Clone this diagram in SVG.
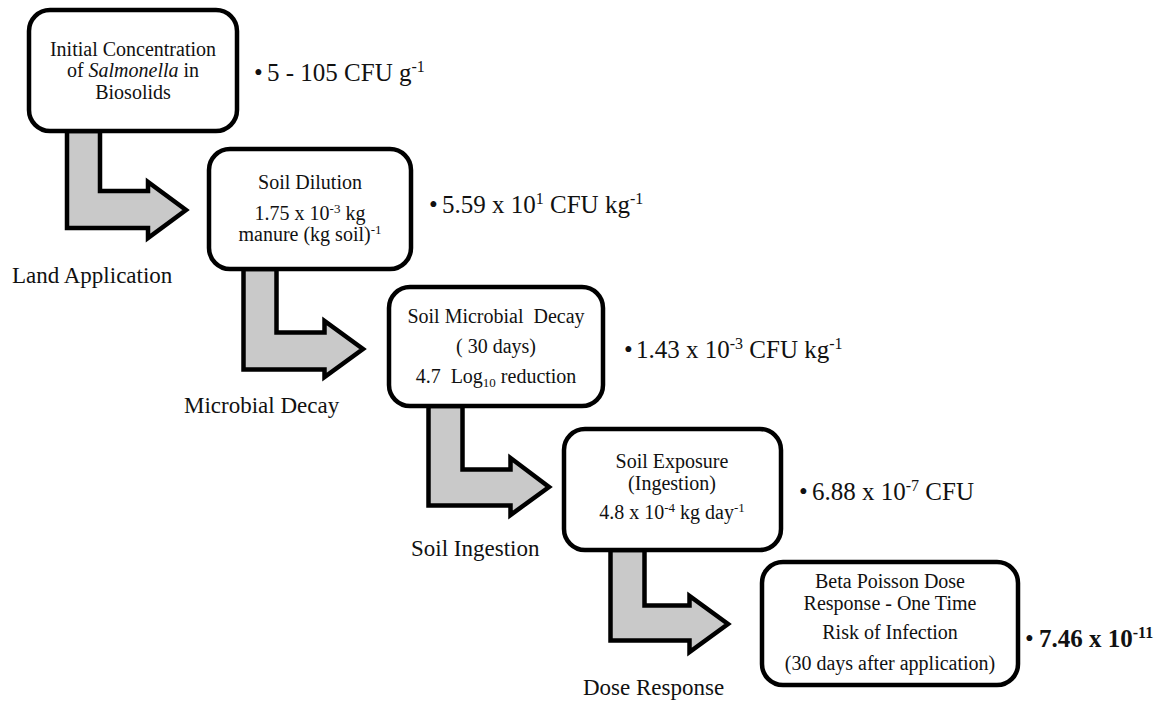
<svg xmlns="http://www.w3.org/2000/svg" width="1162" height="703" viewBox="0 0 1162 703">
<style>
.box{fill:#fff;stroke:#000;stroke-width:4.5}
.arr{fill:#c9c9c9;stroke:#000;stroke-width:4.5;stroke-linejoin:miter}
text{font-family:"Liberation Serif","Times New Roman",serif;fill:#111}
.bt{font-size:20px;text-anchor:middle}
.val{font-size:25px}
.lbl{font-size:23px}
.b{font-weight:bold}
</style>
<rect width="1162" height="703" fill="#fff"/>
<g id="connectors">
<path class="arr" d="M67,131 L67,228 L148,228 L148,238 L186,210 L148,182 L148,191 L100,191 L100,131 Z"/>
<path class="arr" d="M243.5,269 L243.5,369.5 L324.5,369.5 L324.5,377 L363,349 L324.5,321 L324.5,332.5 L276.5,332.5 L276.5,269 Z"/>
<path class="arr" d="M428.5,406 L428.5,505.5 L510.5,505.5 L510.5,515 L549,487 L510.5,458 L510.5,469.5 L462.5,469.5 L462.5,406 Z"/>
<path class="arr" d="M610.5,550 L610.5,640.5 L689.5,640.5 L689.5,652 L728,624 L689.5,596 L689.5,605.5 L644.5,605.5 L644.5,550 Z"/>
<text class="lbl" x="12" y="283">Land Application</text>
<text class="lbl" x="184" y="413">Microbial Decay</text>
<text class="lbl" x="411" y="556">Soil Ingestion</text>
<text class="lbl" x="583" y="695">Dose Response</text>
</g>
<g id="node1">
<rect class="box" x="29" y="10" width="208" height="121" rx="21"/>
<text class="bt" x="133" y="56">Initial Concentration</text>
<text class="bt" x="133" y="77">of <tspan font-style="italic">Salmonella</tspan> in</text>
<text class="bt" x="133" y="99">Biosolids</text>
<text class="val" x="254" y="81">•</text>
<text class="val" x="267" y="81">5 - 105 CFU g<tspan font-size="16" dy="-9">-1</tspan></text>
</g>
<g id="node2">
<rect class="box" x="209" y="149" width="202" height="120" rx="21"/>
<text class="bt" x="310" y="189">Soil Dilution</text>
<text class="bt" x="310" y="220">1.75 x 10<tspan font-size="13" dy="-7">-3</tspan><tspan dy="7"> kg</tspan></text>
<text class="bt" x="310" y="241">manure (kg soil)<tspan font-size="13" dy="-7">-1</tspan></text>
<text class="val" x="429" y="213">•</text>
<text class="val" x="442" y="213">5.59 x 10<tspan font-size="16" dy="-9">1</tspan><tspan dy="9"> CFU kg</tspan><tspan font-size="16" dy="-9">-1</tspan></text>
</g>
<g id="node3">
<rect class="box" x="389" y="287" width="214" height="119" rx="21"/>
<text class="bt" x="496" y="323" xml:space="preserve">Soil Microbial  Decay</text>
<text class="bt" x="496" y="353" xml:space="preserve">( 30 days)</text>
<text class="bt" x="496" y="383" xml:space="preserve">4.7  Log<tspan font-size="13" dy="4">10</tspan><tspan dy="-4"> reduction</tspan></text>
<text class="val" x="624" y="358">•</text>
<text class="val" x="636" y="358">1.43 x 10<tspan font-size="16" dy="-9">-3</tspan><tspan dy="9"> CFU kg</tspan><tspan font-size="16" dy="-9">-1</tspan></text>
</g>
<g id="node4">
<rect class="box" x="564" y="429" width="217" height="121" rx="21"/>
<text class="bt" x="672" y="468">Soil Exposure</text>
<text class="bt" x="672" y="490">(Ingestion)</text>
<text class="bt" x="672" y="519">4.8 x 10<tspan font-size="13" dy="-7">-4</tspan><tspan dy="7"> kg day</tspan><tspan font-size="13" dy="-7">-1</tspan></text>
<text class="val" x="799" y="500">•</text>
<text class="val" x="812" y="500">6.88 x 10<tspan font-size="16" dy="-9">-7</tspan><tspan dy="9"> CFU</tspan></text>
</g>
<g id="node5">
<rect class="box" x="762" y="562" width="256" height="123" rx="21"/>
<text class="bt" x="890" y="588">Beta Poisson Dose</text>
<text class="bt" x="890" y="610">Response - One Time</text>
<text class="bt" x="890" y="639">Risk of Infection</text>
<text class="bt" x="890" y="670">(30 days after application)</text>
<text class="val" x="1025" y="647">•</text>
<text class="val b" x="1039" y="647">7.46 x 10<tspan font-size="16" dy="-9">-11</tspan></text>
</g>
</svg>
